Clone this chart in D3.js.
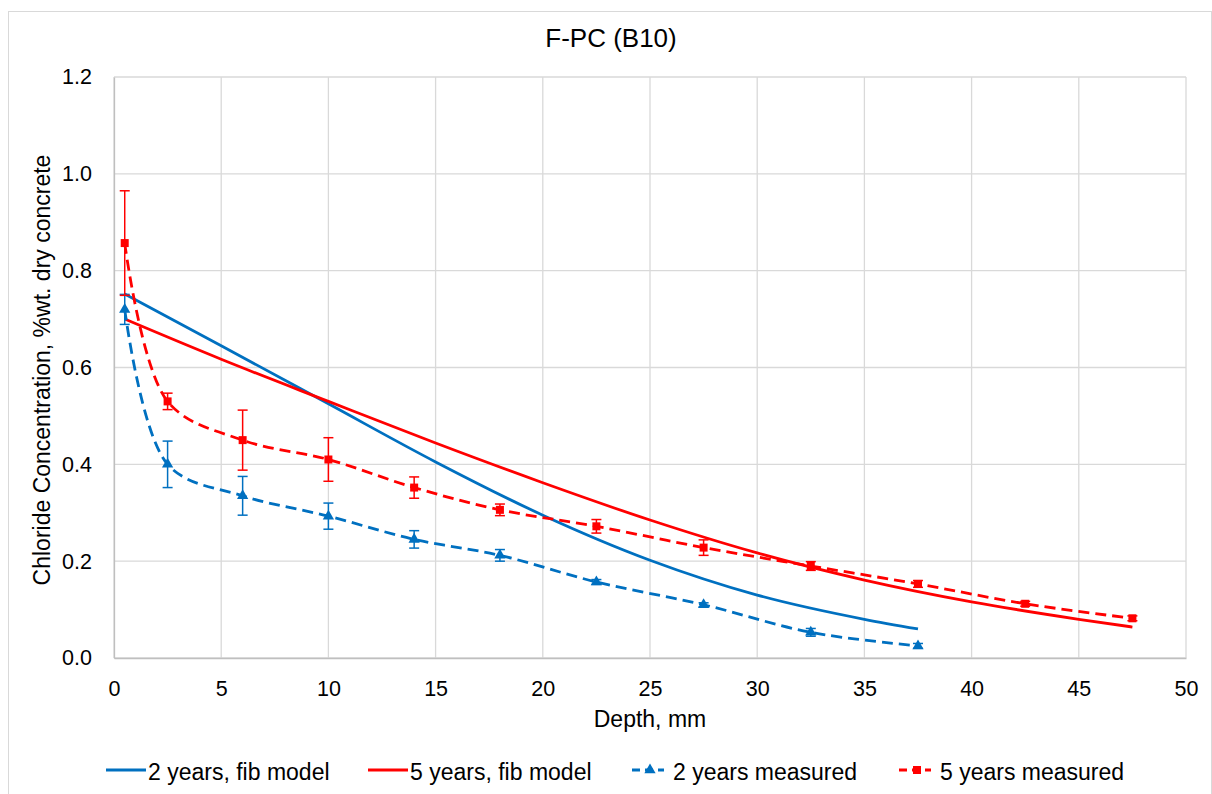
<!DOCTYPE html>
<html>
<head>
<meta charset="utf-8">
<script src="https://cdnjs.cloudflare.com/ajax/libs/d3/7.8.5/d3.min.js"></script>
<style>
  body { margin: 0; background: #fff; }
  text { font-family: "Liberation Sans", Arial, sans-serif; fill: #000; }
</style>
</head>
<body>
<div id="chart"></div>
<script>
// chart data
var depthMeas2 = [0.5, 2.5, 6, 10, 14, 18, 22.5, 27.5, 32.5, 37.5];
var meas2 = [0.72, 0.40, 0.335, 0.293, 0.245, 0.212, 0.157, 0.110, 0.053, 0.025];
var meas2Err = [0.031, 0.048, 0.040, 0.027, 0.018, 0.012, 0.005, 0.004, 0.008, 0.005];

var depthMeas5 = [0.5, 2.5, 6, 10, 14, 18, 22.5, 27.5, 32.5, 37.5, 42.5, 47.5];
var meas5 = [0.857, 0.530, 0.450, 0.410, 0.352, 0.306, 0.272, 0.228, 0.190, 0.153, 0.112, 0.082];
var meas5Err = [0.108, 0.017, 0.062, 0.045, 0.022, 0.012, 0.014, 0.016, 0.009, 0.007, 0.005, 0.005];

var depthModel2 = [0.5, 5, 10, 15, 20, 25, 30, 35, 37.5];
var model2 = [0.752, 0.645, 0.525, 0.405, 0.295, 0.202, 0.130, 0.080, 0.060];

var depthModel5 = [0.5, 5, 10, 15, 20, 25, 30, 35, 40, 45, 47.5];
var model5 = [0.700, 0.617, 0.530, 0.444, 0.362, 0.285, 0.217, 0.161, 0.116, 0.080, 0.064];

var xTicks = [0, 5, 10, 15, 20, 25, 30, 35, 40, 45, 50];
var yTicks = [0, 0.2, 0.4, 0.6, 0.8, 1.0, 1.2];

var blue = "#0070C0";
var red = "#FF0000";

var svgWidth = 1212;
var svgHeight = 794;
var margin = { top: 77, right: 26, bottom: 136, left: 114 };
var width = svgWidth - margin.left - margin.right;
var height = svgHeight - margin.top - margin.bottom;

var svg = d3.select("#chart").append("svg")
  .attr("width", svgWidth)
  .attr("height", svgHeight);

// outer chart border
svg.append("rect")
  .attr("x", 8.5).attr("y", 11.5)
  .attr("width", svgWidth - 9).attr("height", svgHeight - 11)
  .attr("fill", "none").attr("stroke", "#d9d9d9");

var g = svg.append("g")
  .attr("transform", `translate(${margin.left}, ${margin.top})`);

var xScale = d3.scaleLinear().domain([0, 50]).range([0, width]);
var yScale = d3.scaleLinear().domain([0, 1.2]).range([height, 0]);

// gridlines
g.selectAll(".vgrid").data(xTicks).enter().append("line")
  .attr("x1", d => xScale(d)).attr("x2", d => xScale(d))
  .attr("y1", 0).attr("y2", height)
  .attr("stroke", "#d9d9d9").attr("stroke-width", 1.3);
g.selectAll(".hgrid").data(yTicks).enter().append("line")
  .attr("x1", 0).attr("x2", width)
  .attr("y1", d => yScale(d)).attr("y2", d => yScale(d))
  .attr("stroke", "#d9d9d9").attr("stroke-width", 1.3);

// axes
var bottomAxis = d3.axisBottom(xScale).tickValues(xTicks).tickSize(0);
var leftAxis = d3.axisLeft(yScale).tickValues(yTicks).tickSize(0).tickPadding(22)
  .tickFormat(d3.format(".1f"));

var xAxisG = g.append("g").attr("transform", `translate(0, ${height})`).call(bottomAxis);
var yAxisG = g.append("g").call(leftAxis);
[xAxisG, yAxisG].forEach(function(a) {
  a.select(".domain").attr("stroke", "#bfbfbf").attr("stroke-width", 1.3);
  a.selectAll("text").attr("font-size", 21.5).attr("font-family", "Liberation Sans, Arial, sans-serif");
});
xAxisG.selectAll("text").attr("y", 38).attr("dy", null);

// model curves
var modelLine = d3.line()
  .x(d => xScale(d[0])).y(d => yScale(d[1]))
  .curve(d3.curveMonotoneX);

g.append("path")
  .datum(d3.zip(depthModel2, model2))
  .attr("d", modelLine)
  .attr("fill", "none").attr("stroke", blue).attr("stroke-width", 2.8);
g.append("path")
  .datum(d3.zip(depthModel5, model5))
  .attr("d", modelLine)
  .attr("fill", "none").attr("stroke", red).attr("stroke-width", 2.8);

// measured curves
var measLine = d3.line()
  .x(d => xScale(d[0])).y(d => yScale(d[1]))
  .curve(d3.curveCatmullRom.alpha(0.5));

function drawMeasured(xs, ys, errs, color, symbolType, size) {
  var data = d3.zip(xs, ys, errs);
  var grp = g.append("g");
  grp.append("path")
    .datum(data)
    .attr("d", measLine)
    .attr("fill", "none").attr("stroke", color).attr("stroke-width", 2.8)
    .attr("stroke-dasharray", "11,6");
  var eb = grp.selectAll(".err").data(data).enter().append("g");
  eb.append("line")
    .attr("x1", d => xScale(d[0])).attr("x2", d => xScale(d[0]))
    .attr("y1", d => yScale(d[1] - d[2])).attr("y2", d => yScale(d[1] + d[2]))
    .attr("stroke", color).attr("stroke-width", 1.5);
  eb.append("line")
    .attr("x1", d => xScale(d[0]) - 5).attr("x2", d => xScale(d[0]) + 5)
    .attr("y1", d => yScale(d[1] + d[2])).attr("y2", d => yScale(d[1] + d[2]))
    .attr("stroke", color).attr("stroke-width", 1.5);
  eb.append("line")
    .attr("x1", d => xScale(d[0]) - 5).attr("x2", d => xScale(d[0]) + 5)
    .attr("y1", d => yScale(d[1] - d[2])).attr("y2", d => yScale(d[1] - d[2]))
    .attr("stroke", color).attr("stroke-width", 1.5);
  grp.selectAll(".pt").data(data).enter().append("path")
    .attr("transform", d => `translate(${xScale(d[0])}, ${yScale(d[1])})`)
    .attr("d", d3.symbol().type(symbolType).size(size))
    .attr("fill", color);
}

drawMeasured(depthMeas2, meas2, meas2Err, blue, d3.symbolTriangle, 55);
drawMeasured(depthMeas5, meas5, meas5Err, red, d3.symbolSquare, 64);

// title and axis labels
svg.append("text")
  .attr("x", 611).attr("y", 47)
  .attr("text-anchor", "middle").attr("font-size", 26)
  .text("F-PC (B10)");

svg.append("text")
  .attr("x", 650).attr("y", 727)
  .attr("text-anchor", "middle").attr("font-size", 23)
  .text("Depth, mm");

svg.append("text")
  .attr("transform", `translate(50, 370) rotate(-90)`)
  .attr("text-anchor", "middle").attr("font-size", 23)
  .text("Chloride Concentration, %wt. dry concrete");

// legend
var legendItems = [
  { label: "2 years, fib model", color: blue, x: 106, len: 40, dash: null, sym: null },
  { label: "5 years, fib model", color: red, x: 368, len: 40, dash: null, sym: null },
  { label: "2 years measured", color: blue, x: 632, len: 32, dash: "8,5", sym: d3.symbolTriangle },
  { label: "5 years measured", color: red, x: 899, len: 32, dash: "8,5", sym: d3.symbolSquare }
];
var ly = 770;
var leg = svg.append("g");
legendItems.forEach(function(it) {
  leg.append("line")
    .attr("x1", it.x).attr("x2", it.x + it.len)
    .attr("y1", ly).attr("y2", ly)
    .attr("stroke", it.color).attr("stroke-width", 2.8)
    .attr("stroke-dasharray", it.dash);
  if (it.sym) {
    leg.append("path")
      .attr("transform", `translate(${it.x + it.len / 2 + 2}, ${ly})`)
      .attr("d", d3.symbol().type(it.sym).size(it.sym === d3.symbolSquare ? 64 : 55))
      .attr("fill", it.color);
  }
  leg.append("text")
    .attr("x", it.x + it.len + (it.sym ? 9 : 2)).attr("y", 780)
    .attr("font-size", 23)
    .text(it.label);
});
</script>
</body>
</html>
